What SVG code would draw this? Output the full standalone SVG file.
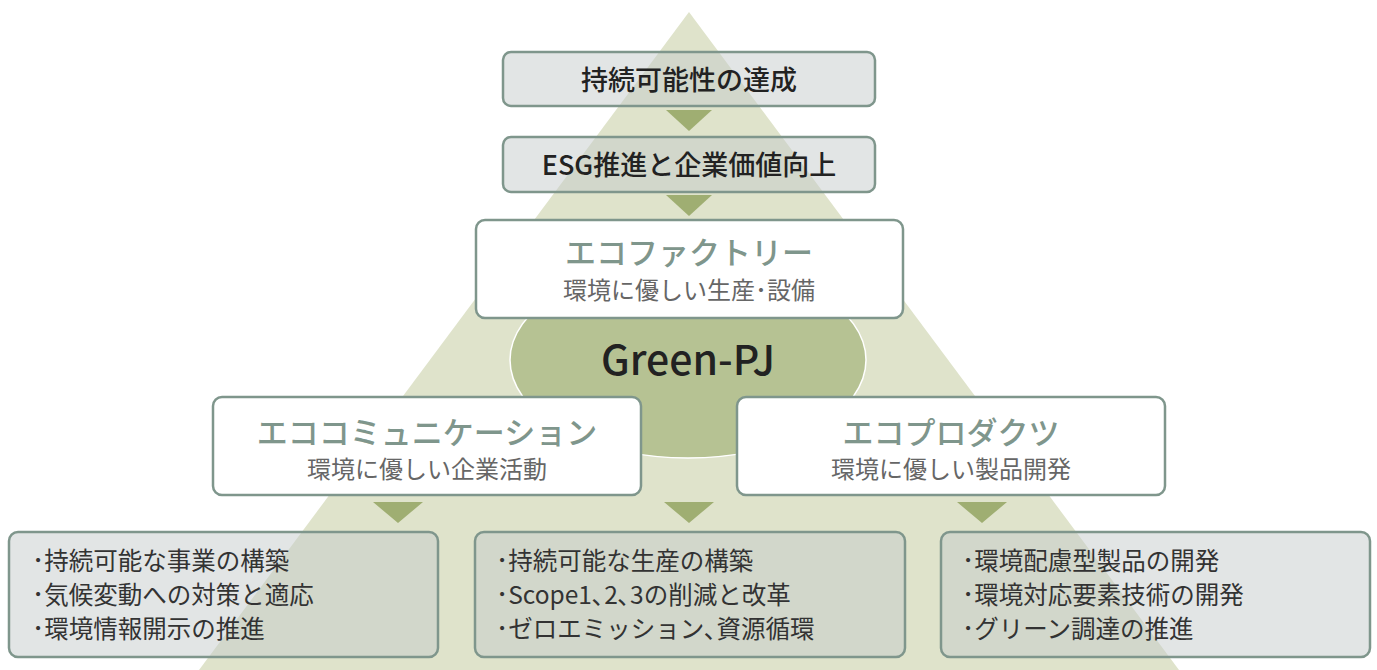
<svg xmlns="http://www.w3.org/2000/svg" width="1377" height="670" viewBox="0 0 1377 670">
<style>
.jp{font-family:"Noto Sans CJK JP","Noto Sans",sans-serif}
.gbox{fill:rgba(198,204,204,0.5);stroke:#7f968c;stroke-width:2.5}
.wbox{fill:#ffffff;stroke:#7f968c;stroke-width:2.5}
.arrow{fill:#9fae72}
.top{font-size:27px;fill:#222;text-anchor:middle;font-weight:500}
.title{font-size:31px;fill:#7f968c;text-anchor:middle;font-weight:500}
.sub{font-size:24px;fill:#666;text-anchor:middle}
.item{font-size:24.5px;fill:#333}
</style>
<rect width="1377" height="670" fill="#ffffff"/>
<polygon points="689,12 199,670 1179,670" fill="#dfe3cb"/>
<g id="green-pj">
<ellipse cx="688" cy="360" rx="178" ry="98" fill="#b6c293" stroke="#ffffff" stroke-width="1.5"/>
<text x="688" y="375" class="jp" font-size="41" fill="#222" text-anchor="middle" font-weight="500">Green-PJ</text>
</g>
<g id="connectors">
<polygon class="arrow" points="666,110 712,110 689,131"/>
<polygon class="arrow" points="666,195 712,195 689,216"/>
<polygon class="arrow" points="373,502 423,502 398,523"/>
<polygon class="arrow" points="664,502 714,502 689,523"/>
<polygon class="arrow" points="957,502 1007,502 982,523"/>
</g>
<g id="goal">
<rect class="gbox" x="503" y="52" width="372" height="54" rx="8"/>
<text class="jp top" x="689" y="90">持続可能性の達成</text>
</g>
<g id="esg">
<rect class="gbox" x="503" y="137" width="372" height="55" rx="8"/>
<text class="jp top" x="689" y="175">ESG推進と企業価値向上</text>
</g>
<g id="eco-factory">
<rect class="wbox" x="476" y="220" width="427" height="98" rx="9"/>
<text class="jp title" x="689" y="264">エコファクトリー</text>
<text class="jp sub" x="689" y="299">環境に優しい生産･設備</text>
</g>
<g id="eco-communication">
<rect class="wbox" x="213" y="397" width="428" height="98" rx="9"/>
<text class="jp title" x="427" y="444">エココミュニケーション</text>
<text class="jp sub" x="427" y="478">環境に優しい企業活動</text>
</g>
<g id="eco-products">
<rect class="wbox" x="737" y="397" width="428" height="98" rx="9"/>
<text class="jp title" x="951" y="444">エコプロダクツ</text>
<text class="jp sub" x="951" y="478">環境に優しい製品開発</text>
</g>
<g id="list-communication">
<rect class="gbox" x="9" y="532" width="429" height="125" rx="9"/>
<text class="jp item" x="32" y="570">･持続可能な事業の構築</text>
<text class="jp item" x="32" y="604">･気候変動への対策と適応</text>
<text class="jp item" x="32" y="638">･環境情報開示の推進</text>
</g>
<g id="list-factory">
<rect class="gbox" x="475" y="532" width="430" height="125" rx="9"/>
<text class="jp item" x="496" y="570">･持続可能な生産の構築</text>
<text class="jp item" x="496" y="604">･Scope1､2､3の削減と改革</text>
<text class="jp item" x="496" y="638">･ゼロエミッション､資源循環</text>
</g>
<g id="list-products">
<rect class="gbox" x="941" y="532" width="429" height="125" rx="9"/>
<text class="jp item" x="962" y="570">･環境配慮型製品の開発</text>
<text class="jp item" x="962" y="604">･環境対応要素技術の開発</text>
<text class="jp item" x="962" y="638">･グリーン調達の推進</text>
</g>
</svg>
